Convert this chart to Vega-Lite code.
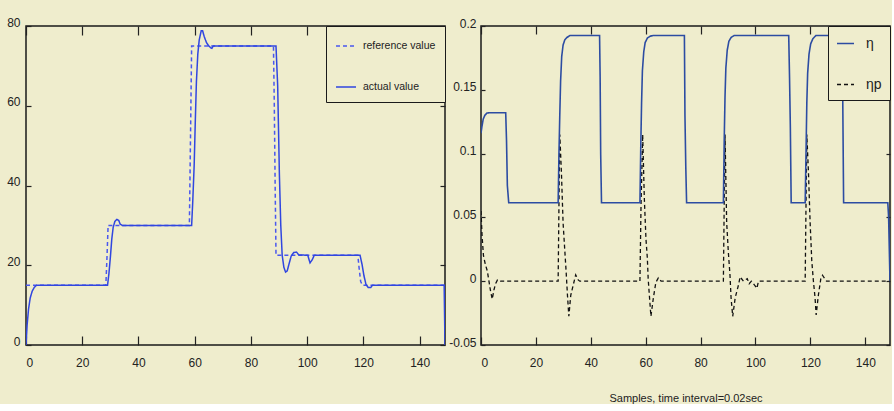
{
  "$schema": "https://vega.github.io/schema/vega-lite/v6.json",
  "padding": 0,
  "background": "#efedcd",
  "spacing": 0,
  "config": {
    "view": {"stroke": "#1a1a1a", "strokeWidth": 1.5},
    "axis": {
      "labelFont": "Liberation Sans",
      "labelFontSize": 12,
      "labelColor": "#222222",
      "domain": false,
      "grid": false,
      "tickColor": "#222222",
      "tickWidth": 1.2,
      "titleFont": "Liberation Sans",
      "titleFontWeight": "normal",
      "titleFontSize": 11,
      "titleColor": "#222222"
    },
    "legend": {
      "labelFont": "Liberation Sans",
      "labelColor": "#222222",
      "strokeColor": "#1a1a1a",
      "fillColor": "#efedcd",
      "symbolType": "stroke",
      "symbolStrokeWidth": 1.6
    }
  },
  "datasets": {
    "left": [
      {"x": 0, "value": 15, "series": "reference value"},
      {"x": 28.4, "value": 15, "series": "reference value"},
      {"x": 28.8, "value": 22, "series": "reference value"},
      {"x": 29.2, "value": 30, "series": "reference value"},
      {"x": 58.1, "value": 30, "series": "reference value"},
      {"x": 58.5, "value": 52, "series": "reference value"},
      {"x": 58.9, "value": 75, "series": "reference value"},
      {"x": 88.0, "value": 75, "series": "reference value"},
      {"x": 88.3, "value": 60, "series": "reference value"},
      {"x": 88.6, "value": 40, "series": "reference value"},
      {"x": 88.9, "value": 22.5, "series": "reference value"},
      {"x": 118, "value": 22.5, "series": "reference value"},
      {"x": 118.5, "value": 19, "series": "reference value"},
      {"x": 119, "value": 16, "series": "reference value"},
      {"x": 119.6, "value": 15, "series": "reference value"},
      {"x": 149, "value": 15, "series": "reference value"},
      {"x": 0, "value": 0, "series": "actual value"},
      {"x": 0.4, "value": 5, "series": "actual value"},
      {"x": 0.9, "value": 9, "series": "actual value"},
      {"x": 1.5, "value": 11.8, "series": "actual value"},
      {"x": 2.2, "value": 13.5, "series": "actual value"},
      {"x": 3, "value": 14.5, "series": "actual value"},
      {"x": 3.8, "value": 15, "series": "actual value"},
      {"x": 29, "value": 15, "series": "actual value"},
      {"x": 29.5, "value": 18, "series": "actual value"},
      {"x": 30, "value": 22, "series": "actual value"},
      {"x": 30.5, "value": 26.5, "series": "actual value"},
      {"x": 31, "value": 29.5, "series": "actual value"},
      {"x": 31.6, "value": 31, "series": "actual value"},
      {"x": 32.3, "value": 31.5, "series": "actual value"},
      {"x": 33, "value": 31.2, "series": "actual value"},
      {"x": 33.5, "value": 30.3, "series": "actual value"},
      {"x": 34.2, "value": 30, "series": "actual value"},
      {"x": 58.9, "value": 30, "series": "actual value"},
      {"x": 59.3, "value": 36, "series": "actual value"},
      {"x": 59.8, "value": 45, "series": "actual value"},
      {"x": 60.2, "value": 56, "series": "actual value"},
      {"x": 60.6, "value": 66, "series": "actual value"},
      {"x": 61.1, "value": 73, "series": "actual value"},
      {"x": 61.6, "value": 76.5, "series": "actual value"},
      {"x": 62.3, "value": 78.8, "series": "actual value"},
      {"x": 62.8, "value": 78.8, "series": "actual value"},
      {"x": 63.4, "value": 77.3, "series": "actual value"},
      {"x": 64.2, "value": 75.8, "series": "actual value"},
      {"x": 65, "value": 75, "series": "actual value"},
      {"x": 65.6, "value": 74.6, "series": "actual value"},
      {"x": 66.1, "value": 74.4, "series": "actual value"},
      {"x": 66.6, "value": 75, "series": "actual value"},
      {"x": 88.9, "value": 75, "series": "actual value"},
      {"x": 89.5, "value": 65, "series": "actual value"},
      {"x": 90.1, "value": 43, "series": "actual value"},
      {"x": 90.6, "value": 30, "series": "actual value"},
      {"x": 91.1, "value": 22.5, "series": "actual value"},
      {"x": 91.7, "value": 19.5, "series": "actual value"},
      {"x": 92.3, "value": 18.3, "series": "actual value"},
      {"x": 92.9, "value": 18.6, "series": "actual value"},
      {"x": 93.6, "value": 20.5, "series": "actual value"},
      {"x": 94.3, "value": 22.3, "series": "actual value"},
      {"x": 95.2, "value": 23.2, "series": "actual value"},
      {"x": 96.2, "value": 23.3, "series": "actual value"},
      {"x": 97, "value": 22.6, "series": "actual value"},
      {"x": 100.2, "value": 22.5, "series": "actual value"},
      {"x": 101, "value": 20.6, "series": "actual value"},
      {"x": 101.8, "value": 21.4, "series": "actual value"},
      {"x": 102.5, "value": 22.5, "series": "actual value"},
      {"x": 118.8, "value": 22.5, "series": "actual value"},
      {"x": 119.5, "value": 20.2, "series": "actual value"},
      {"x": 120.2, "value": 17.3, "series": "actual value"},
      {"x": 120.9, "value": 15.2, "series": "actual value"},
      {"x": 121.7, "value": 14.4, "series": "actual value"},
      {"x": 122.6, "value": 14.4, "series": "actual value"},
      {"x": 123.2, "value": 15, "series": "actual value"},
      {"x": 148.7, "value": 15, "series": "actual value"},
      {"x": 149, "value": 0, "series": "actual value"}
    ],
    "right": [
      {"x": 0, "value": 0.116, "series": "η"},
      {"x": 0.4, "value": 0.122, "series": "η"},
      {"x": 0.8, "value": 0.127, "series": "η"},
      {"x": 1.4, "value": 0.130, "series": "η"},
      {"x": 2.2, "value": 0.1318, "series": "η"},
      {"x": 3, "value": 0.132, "series": "η"},
      {"x": 9, "value": 0.132, "series": "η"},
      {"x": 9.3, "value": 0.11, "series": "η"},
      {"x": 9.6, "value": 0.075, "series": "η"},
      {"x": 10.1, "value": 0.0615, "series": "η"},
      {"x": 28.1, "value": 0.0615, "series": "η"},
      {"x": 28.4, "value": 0.10, "series": "η"},
      {"x": 28.7, "value": 0.13, "series": "η"},
      {"x": 29.0, "value": 0.157, "series": "η"},
      {"x": 29.4, "value": 0.176, "series": "η"},
      {"x": 29.9, "value": 0.185, "series": "η"},
      {"x": 30.5, "value": 0.189, "series": "η"},
      {"x": 31.3, "value": 0.191, "series": "η"},
      {"x": 32.4, "value": 0.1925, "series": "η"},
      {"x": 43.2, "value": 0.1925, "series": "η"},
      {"x": 43.4, "value": 0.16, "series": "η"},
      {"x": 43.6, "value": 0.10, "series": "η"},
      {"x": 43.9, "value": 0.0615, "series": "η"},
      {"x": 57.9, "value": 0.0615, "series": "η"},
      {"x": 58.2, "value": 0.105, "series": "η"},
      {"x": 58.5, "value": 0.14, "series": "η"},
      {"x": 58.8, "value": 0.165, "series": "η"},
      {"x": 59.3, "value": 0.18, "series": "η"},
      {"x": 59.8, "value": 0.187, "series": "η"},
      {"x": 60.6, "value": 0.1905, "series": "η"},
      {"x": 61.6, "value": 0.192, "series": "η"},
      {"x": 62.6, "value": 0.1925, "series": "η"},
      {"x": 74.1, "value": 0.1925, "series": "η"},
      {"x": 74.3, "value": 0.13, "series": "η"},
      {"x": 74.6, "value": 0.09, "series": "η"},
      {"x": 74.9, "value": 0.0615, "series": "η"},
      {"x": 88.3, "value": 0.0615, "series": "η"},
      {"x": 88.6, "value": 0.11, "series": "η"},
      {"x": 88.9, "value": 0.145, "series": "η"},
      {"x": 89.2, "value": 0.167, "series": "η"},
      {"x": 89.7, "value": 0.181, "series": "η"},
      {"x": 90.3, "value": 0.188, "series": "η"},
      {"x": 91.1, "value": 0.191, "series": "η"},
      {"x": 92.2, "value": 0.1925, "series": "η"},
      {"x": 112.1, "value": 0.1925, "series": "η"},
      {"x": 112.4, "value": 0.16, "series": "η"},
      {"x": 112.7, "value": 0.12, "series": "η"},
      {"x": 113.0, "value": 0.0615, "series": "η"},
      {"x": 118.1, "value": 0.0615, "series": "η"},
      {"x": 118.4, "value": 0.10, "series": "η"},
      {"x": 118.7, "value": 0.14, "series": "η"},
      {"x": 119.0, "value": 0.163, "series": "η"},
      {"x": 119.5, "value": 0.178, "series": "η"},
      {"x": 120.1, "value": 0.186, "series": "η"},
      {"x": 120.9, "value": 0.19, "series": "η"},
      {"x": 122, "value": 0.1925, "series": "η"},
      {"x": 131.6, "value": 0.1925, "series": "η"},
      {"x": 131.8, "value": 0.14, "series": "η"},
      {"x": 132.1, "value": 0.0615, "series": "η"},
      {"x": 148.2, "value": 0.0615, "series": "η"},
      {"x": 148.5, "value": 0.05, "series": "η"},
      {"x": 148.8, "value": 0.02, "series": "η"},
      {"x": 149, "value": 0.0, "series": "η"},
      {"x": 0, "value": 0.055, "series": "ηp"},
      {"x": 0.4, "value": 0.035, "series": "ηp"},
      {"x": 0.9, "value": 0.02, "series": "ηp"},
      {"x": 1.6, "value": 0.013, "series": "ηp"},
      {"x": 2.3, "value": 0.008, "series": "ηp"},
      {"x": 2.9, "value": 0, "series": "ηp"},
      {"x": 3.5, "value": -0.008, "series": "ηp"},
      {"x": 4.1, "value": -0.014, "series": "ηp"},
      {"x": 4.7, "value": -0.007, "series": "ηp"},
      {"x": 5.3, "value": -0.002, "series": "ηp"},
      {"x": 6.0, "value": 0.001, "series": "ηp"},
      {"x": 7, "value": 0, "series": "ηp"},
      {"x": 28.1, "value": 0, "series": "ηp"},
      {"x": 28.4, "value": 0.06, "series": "ηp"},
      {"x": 28.7, "value": 0.115, "series": "ηp"},
      {"x": 29.3, "value": 0.085, "series": "ηp"},
      {"x": 29.9, "value": 0.046, "series": "ηp"},
      {"x": 30.5, "value": 0.025, "series": "ηp"},
      {"x": 31.0, "value": 0.008, "series": "ηp"},
      {"x": 31.5, "value": -0.011, "series": "ηp"},
      {"x": 32.0, "value": -0.0275, "series": "ηp"},
      {"x": 32.7, "value": -0.011, "series": "ηp"},
      {"x": 33.6, "value": -0.003, "series": "ηp"},
      {"x": 34.5, "value": 0.005, "series": "ηp"},
      {"x": 35.4, "value": 0.001, "series": "ηp"},
      {"x": 36, "value": 0, "series": "ηp"},
      {"x": 57.9, "value": 0, "series": "ηp"},
      {"x": 58.3, "value": 0.06, "series": "ηp"},
      {"x": 58.9, "value": 0.115, "series": "ηp"},
      {"x": 59.5, "value": 0.065, "series": "ηp"},
      {"x": 60.1, "value": 0.033, "series": "ηp"},
      {"x": 60.6, "value": 0.018, "series": "ηp"},
      {"x": 60.9, "value": 0.002, "series": "ηp"},
      {"x": 61.4, "value": -0.013, "series": "ηp"},
      {"x": 61.9, "value": -0.0275, "series": "ηp"},
      {"x": 62.8, "value": -0.013, "series": "ηp"},
      {"x": 63.7, "value": -0.001, "series": "ηp"},
      {"x": 64.6, "value": 0.0026, "series": "ηp"},
      {"x": 65.6, "value": 0, "series": "ηp"},
      {"x": 88.3, "value": 0, "series": "ηp"},
      {"x": 88.6, "value": 0.06, "series": "ηp"},
      {"x": 88.9, "value": 0.115, "series": "ηp"},
      {"x": 89.5, "value": 0.046, "series": "ηp"},
      {"x": 90.1, "value": 0.023, "series": "ηp"},
      {"x": 90.7, "value": 0.005, "series": "ηp"},
      {"x": 91.1, "value": -0.013, "series": "ηp"},
      {"x": 91.7, "value": -0.0275, "series": "ηp"},
      {"x": 92.6, "value": -0.013, "series": "ηp"},
      {"x": 93.8, "value": -0.003, "series": "ηp"},
      {"x": 94.4, "value": 0.0034, "series": "ηp"},
      {"x": 95.6, "value": 0, "series": "ηp"},
      {"x": 97.0, "value": 0.002, "series": "ηp"},
      {"x": 97.7, "value": -0.002, "series": "ηp"},
      {"x": 98.5, "value": 0, "series": "ηp"},
      {"x": 100.0, "value": -0.004, "series": "ηp"},
      {"x": 100.5, "value": -0.0056, "series": "ηp"},
      {"x": 101.1, "value": 0, "series": "ηp"},
      {"x": 118.1, "value": 0, "series": "ηp"},
      {"x": 118.4, "value": 0.06, "series": "ηp"},
      {"x": 118.7, "value": 0.115, "series": "ηp"},
      {"x": 119.3, "value": 0.085, "series": "ηp"},
      {"x": 119.9, "value": 0.046, "series": "ηp"},
      {"x": 120.5, "value": 0.016, "series": "ηp"},
      {"x": 121.1, "value": 0, "series": "ηp"},
      {"x": 121.7, "value": -0.013, "series": "ηp"},
      {"x": 122.1, "value": -0.0265, "series": "ηp"},
      {"x": 122.9, "value": -0.011, "series": "ηp"},
      {"x": 123.8, "value": 0.002, "series": "ηp"},
      {"x": 124.4, "value": 0.0047, "series": "ηp"},
      {"x": 125.9, "value": 0, "series": "ηp"},
      {"x": 149, "value": 0, "series": "ηp"}
    ]
  },
  "hconcat": [
    {
      "width": 419,
      "height": 319,
      "data": {"name": "left"},
      "resolve": {"axis": {"x": "independent", "y": "independent"}},
      "layer": [
        {
          "transform": [{"filter": "datum.series == 'reference value'"}],
          "mark": {"type": "line", "strokeWidth": 1.5, "clip": true},
          "encoding": {
            "x": {"field": "x", "type": "quantitative", "scale": {"domain": [0, 149], "nice": false, "zero": false},
              "axis": {"orient": "bottom", "title": null, "values": [0, 20, 40, 60, 80, 100, 120, 140], "tickSize": -9, "labelPadding": 21}},
            "y": {"field": "value", "type": "quantitative", "scale": {"domain": [0, 80], "nice": false},
              "axis": {"orient": "left", "title": null, "values": [0, 20, 40, 60, 80], "tickSize": -5, "labelPadding": 11, "labelOffset": -4, "minExtent": 25}},
            "color": {"field": "series", "type": "nominal", "scale": {"domain": ["reference value", "actual value"], "range": ["#4a57ee", "#3046e0"]},
              "legend": {"title": null, "orient": "top-right", "offset": 0, "padding": 9, "rowPadding": 24, "symbolSize": 400, "labelFontSize": 10.5, "labelOffset": 6}},
            "strokeDash": {"field": "series", "type": "nominal", "scale": {"domain": ["reference value", "actual value"], "range": [[4, 3], [1, 0]]},
              "legend": {"title": null, "orient": "top-right", "offset": 0, "padding": 9, "rowPadding": 24, "symbolSize": 400, "labelFontSize": 10.5, "labelOffset": 6}}
          }
        },
        {
          "transform": [{"filter": "datum.series == 'actual value'"}],
          "mark": {"type": "line", "strokeWidth": 1.5, "clip": true},
          "encoding": {
            "x": {"field": "x", "type": "quantitative",
              "axis": {"orient": "top", "title": null, "values": [0, 20, 40, 60, 80, 100, 120, 140], "tickSize": -9, "labels": false, "minExtent": 25}},
            "y": {"field": "value", "type": "quantitative",
              "axis": {"orient": "right", "title": null, "values": [0, 20, 40, 60, 80], "tickSize": -5, "labels": false, "minExtent": 0}},
            "color": {"field": "series", "type": "nominal"},
            "strokeDash": {"field": "series", "type": "nominal"}
          }
        }
      ]
    },
    {
      "width": 409,
      "height": 319,
      "data": {"name": "right"},
      "resolve": {"axis": {"x": "independent", "y": "independent"}},
      "layer": [
        {
          "transform": [{"filter": "datum.series == 'ηp'"}],
          "mark": {"type": "line", "strokeWidth": 1.3, "clip": true},
          "encoding": {
            "x": {"field": "x", "type": "quantitative", "scale": {"domain": [0, 149], "nice": false, "zero": false},
              "axis": {"orient": "bottom", "title": "Samples, time interval=0.02sec", "titlePadding": 24, "values": [0, 20, 40, 60, 80, 100, 120, 140], "tickSize": -8, "labelPadding": 20}},
            "y": {"field": "value", "type": "quantitative", "scale": {"domain": [-0.05, 0.2], "nice": false, "zero": false},
              "axis": {"orient": "left", "title": null, "values": [-0.05, 0, 0.05, 0.1, 0.15, 0.2], "labelExpr": "toString(datum.value)", "tickSize": -4, "labelPadding": 9, "labelOffset": -3, "minExtent": 30}},
            "color": {"field": "series", "type": "nominal", "scale": {"domain": ["η", "ηp"], "range": ["#2c4ca2", "#111111"]},
              "legend": {"title": null, "orient": "top-right", "offset": 0, "padding": 8, "rowPadding": 24, "symbolSize": 289, "labelFontSize": 14, "labelOffset": 11}},
            "strokeDash": {"field": "series", "type": "nominal", "scale": {"domain": ["η", "ηp"], "range": [[1, 0], [4, 3]]},
              "legend": {"title": null, "orient": "top-right", "offset": 0, "padding": 8, "rowPadding": 24, "symbolSize": 289, "labelFontSize": 14, "labelOffset": 11}}
          }
        },
        {
          "transform": [{"filter": "datum.series == 'η'"}],
          "mark": {"type": "line", "strokeWidth": 1.6, "clip": true},
          "encoding": {
            "x": {"field": "x", "type": "quantitative",
              "axis": {"orient": "top", "title": null, "values": [0, 20, 40, 60, 80, 100, 120, 140], "tickSize": -8, "labels": false, "minExtent": 25}},
            "y": {"field": "value", "type": "quantitative",
              "axis": {"orient": "right", "title": null, "values": [-0.05, 0, 0.05, 0.1, 0.15, 0.2], "tickSize": -4, "labels": false, "minExtent": 0}},
            "color": {"field": "series", "type": "nominal"},
            "strokeDash": {"field": "series", "type": "nominal"}
          }
        }
      ]
    }
  ],
  "resolve": {
    "scale": {"color": "independent", "strokeDash": "independent", "x": "independent", "y": "independent"},
    "legend": {"color": "independent", "strokeDash": "independent"}
  }
}
